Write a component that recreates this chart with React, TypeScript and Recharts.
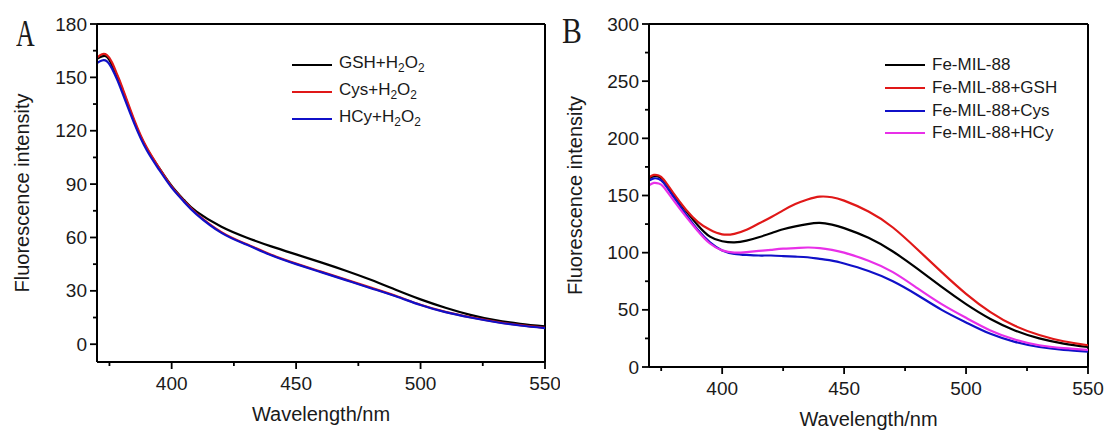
import { LineChart, Line, XAxis, YAxis, Legend, ReferenceLine, Label } from "recharts";

// panel A : thiols + H2O2
const waveA = [370, 372, 374, 376, 378, 380, 385, 390, 395, 400, 405, 410, 420, 430, 440, 450, 460, 470, 480, 490, 500, 510, 520, 530, 540, 550];
const gshH2O2 = [160.5, 161.8, 161.5, 157, 151, 144, 125, 110, 99, 89, 81, 74.5, 66, 60, 55, 50.5, 46, 41.3, 36.2, 30.6, 25.2, 20.5, 16.5, 13.5, 11.5, 10];
const cysH2O2 = [161, 163, 162.5, 158.5, 152, 145, 126, 110.5, 99, 88.5, 80.5, 73.5, 63, 56.3, 50.3, 45.3, 40.8, 36.3, 31.8, 27.2, 22.2, 18.2, 15.2, 12.7, 10.7, 9.2];
const hcyH2O2 = [158, 159.5, 159, 155, 149, 142, 124, 109, 98, 88, 80, 73, 62.6, 56, 50, 45, 40.5, 36, 31.5, 27, 22, 18, 15, 12.5, 10.5, 9];

// panel B : Fe-MIL-88
const waveB = [370, 372, 374, 376, 380, 385, 390, 395, 400, 405, 410, 415, 420, 425, 430, 435, 440, 445, 450, 460, 470, 480, 490, 500, 510, 520, 530, 540, 550];
const feMil = [165, 167, 166.5, 163, 151, 137, 124, 114, 110, 109, 110.5, 113.5, 117, 120.5, 123, 125, 126, 124.5, 121.5, 113, 101, 86, 70, 55, 42, 32, 25, 20.5, 17.5];
const feGsh = [166, 168, 167.5, 164, 152, 138, 127, 120, 116, 116.5, 120, 125.5, 131, 137, 142.5, 146.5, 149, 148.5, 145.5, 136, 122, 103, 83, 64, 48, 36, 28, 22.5, 19];
const feCys = [163, 165, 164.5, 161, 149, 134, 120, 109, 102, 99, 98, 97.5, 97.5, 97, 96.5, 96, 94.5, 93, 90.5, 84, 75, 63, 50, 39, 29, 22, 17.5, 15, 13.5];
const feHcy = [159, 161, 160.5, 157.5, 146, 132, 119, 108, 102, 100, 100.5, 101.5, 102.5, 103.5, 104, 104.5, 104, 102.5, 100, 93, 83, 69, 55, 43, 32, 24, 19, 16.5, 15];

const namesA = ["GSH+H2O2", "Cys+H2O2", "HCy+H2O2"];
const namesB = ["Fe-MIL-88", "Fe-MIL-88+GSH", "Fe-MIL-88+Cys", "Fe-MIL-88+HCy"];
const colorsA = ["#000000", "#e01818", "#1010c8"];
const colorsB = ["#000000", "#e01818", "#1010c8", "#e830e8"];

const xMajor = [400, 450, 500, 550];
const xMinor = [375, 425, 475, 525];
const yMajorA = [0, 30, 60, 90, 120, 150, 180];
const yMinorA = [15, 45, 75, 105, 135, 165];
const yMajorB = [0, 50, 100, 150, 200, 250, 300];
const yMinorB = [25, 75, 125, 175, 225, 275];

const FONT = "'Liberation Sans', Arial, sans-serif";
const INK = "#1a1a1a";

const dataA = waveA.map((w, i) => ({ w, s0: gshH2O2[i], s1: cysH2O2[i], s2: hcyH2O2[i] }));
const dataB = waveB.map((w, i) => ({ w, s0: feMil[i], s1: feGsh[i], s2: feCys[i], s3: feHcy[i] }));

const chem = (name: string) => {
  if (!name.includes("H2O2")) return name;
  const parts = name.split(/(\d)/);
  return parts.map((p, i) => (/^\d$/.test(p) ? <sub key={i} style={{ fontSize: "0.7em", verticalAlign: "-0.35em" }}>{p}</sub> : <span key={i}>{p}</span>));
};

const makeYTick = (major: number[]) => (props: any) => {
  const { x, y, payload } = props;
  const isMajor = major.includes(payload.value);
  return (
    <g>
      <line x1={x} x2={x - (isMajor ? 7 : 4)} y1={y} y2={y} stroke="#000" strokeWidth={1.8} />
      {isMajor && (
        <text x={x - 10} y={y} textAnchor="end" dominantBaseline="central" fontSize={19} fontFamily={FONT} fill={INK}>
          {payload.value}
        </text>
      )}
    </g>
  );
};

const xTick = (props: any) => {
  const { x, y, payload } = props;
  const isMajor = xMajor.includes(payload.value);
  return (
    <g>
      <line x1={x} x2={x} y1={y} y2={y + (isMajor ? 7 : 4)} stroke="#000" strokeWidth={1.8} />
      {isMajor && (
        <text x={x} y={y + 21} textAnchor="middle" dominantBaseline="central" fontSize={19} fontFamily={FONT} fill={INK}>
          {payload.value}
        </text>
      )}
    </g>
  );
};

const yTitle = (dx: number) => (props: any) => {
  const { viewBox } = props;
  const x = viewBox.x + dx;
  const y = viewBox.y + viewBox.height / 2;
  return (
    <text x={x} y={y} transform={`rotate(-90 ${x} ${y})`} textAnchor="middle" dominantBaseline="central" fontSize={20} fontFamily={FONT} fill={INK}>
      Fluorescence intensity
    </text>
  );
};

const xTitle = (dy: number) => (props: any) => {
  const { viewBox } = props;
  return (
    <text x={viewBox.x + viewBox.width / 2} y={viewBox.y + dy} textAnchor="middle" dominantBaseline="central" fontSize={20} fontFamily={FONT} fill={INK}>
      Wavelength/nm
    </text>
  );
};

const legendBox = (names: string[], colors: string[], rowH: number) => () => (
  <div style={{ fontFamily: FONT, fontSize: 17, color: INK }}>
    {names.map((n, i) => (
      <div key={n} style={{ height: rowH, display: "flex", alignItems: "center", whiteSpace: "nowrap" }}>
        <svg width={44} height={6} style={{ marginRight: 3 }}>
          <line x1={0} x2={40} y1={3} y2={3} stroke={colors[i]} strokeWidth={2.2} />
        </svg>
        <span>{chem(n)}</span>
      </div>
    ))}
  </div>
);

function Panel(props: {
  data: any[]; names: string[]; colors: string[]; width: number; right: number; yWidth: number; xHeight: number;
  yDomain: [number, number]; yMajor: number[]; yMinor: number[]; legendLeft: number; legendTop: number; rowH: number; yTitleX: number;
}) {
  const p = props;
  return (
    <LineChart width={p.width} height={435} data={p.data} margin={{ top: 24, right: p.right, bottom: 0, left: 0 }}>
      <XAxis dataKey="w" type="number" domain={[370, 550]} allowDataOverflow ticks={[...xMinor, ...xMajor].sort((a, b) => a - b)}
        tick={xTick} tickLine={false} tickSize={0} tickMargin={0} height={p.xHeight} axisLine={{ stroke: "#000", strokeWidth: 2 }}>
        <Label content={xTitle(52)} />
      </XAxis>
      <YAxis type="number" domain={p.yDomain} allowDataOverflow ticks={[...p.yMinor, ...p.yMajor].sort((a, b) => a - b)}
        tick={makeYTick(p.yMajor)} tickLine={false} tickSize={0} tickMargin={0} width={p.yWidth} axisLine={{ stroke: "#000", strokeWidth: 2 }}>
        <Label content={yTitle(p.yTitleX)} />
      </YAxis>
      <ReferenceLine x={550} stroke="#000" strokeWidth={2} />
      <ReferenceLine y={p.yDomain[1]} stroke="#000" strokeWidth={2} />
      <Legend layout="vertical" align="center" verticalAlign="middle" content={legendBox(p.names, p.colors, p.rowH)}
        wrapperStyle={{ left: p.legendLeft, top: p.legendTop, width: 220 }} />
      {p.names.map((n, i) => (
        <Line key={n} name={n} type="natural" dataKey={`s${i}`} stroke={p.colors[i]} strokeWidth={2.2} dot={false} isAnimationActive={false} />
      ))}
    </LineChart>
  );
}

export default function App() {
  return (
    <div style={{ position: "absolute", left: 0, top: 0, width: 1107, height: 435, background: "#fff" }}>
      <div style={{ position: "absolute", left: 0, top: 0 }}>
        <Panel data={dataA} names={namesA} colors={colorsA} width={560} right={15} yWidth={97} xHeight={73}
          yDomain={[-10, 180]} yMajor={yMajorA} yMinor={yMinorA} legendLeft={292} legendTop={51} rowH={27} yTitleX={22} />
      </div>
      <div style={{ position: "absolute", left: 560, top: 0 }}>
        <Panel data={dataB} names={namesB} colors={colorsB} width={547} right={19} yWidth={89} xHeight={68}
          yDomain={[0, 300]} yMajor={yMajorB} yMinor={yMinorB} legendLeft={325} legendTop={54} rowH={22.7} yTitleX={15} />
      </div>
      <div style={{ position: "absolute", left: 16, top: 14, fontFamily: "'Liberation Serif', serif", fontSize: 38, color: INK, transform: "scaleX(0.68)", transformOrigin: "left top", lineHeight: 1 }}>A</div>
      <div style={{ position: "absolute", left: 562, top: 14, fontFamily: "'Liberation Serif', serif", fontSize: 35, color: INK, transform: "scaleX(0.85)", transformOrigin: "left top", lineHeight: 1 }}>B</div>
    </div>
  );
}
